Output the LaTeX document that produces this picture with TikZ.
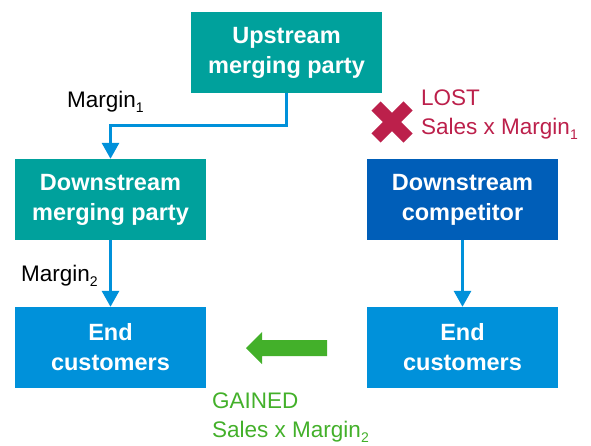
\documentclass[tikz,border=0pt]{standalone}
\usepackage{fontspec}
\setmainfont{Liberation Sans}
\usetikzlibrary{arrows.meta}
\definecolor{teal}{HTML}{00A19C}
\definecolor{lblue}{HTML}{0091DA}
\definecolor{mblue}{HTML}{005EB8}
\definecolor{kred}{HTML}{BC204B}
\definecolor{kgreen}{HTML}{43B02A}
\newcommand\mysub[1]{\raisebox{-0.4ex}{\fontsize{14}{14}\selectfont #1}}
\tikzset{
  boxnode/.style={minimum width=191pt, minimum height=81pt, inner sep=0pt, text=white,
    font=\fontsize{23.5}{30}\selectfont\bfseries, align=center},
  conn/.style={lblue, line width=3pt, -{Triangle[width=17pt,length=16pt]}},
  lbl/.style={font=\fontsize{22.5}{29}\selectfont, inner sep=0pt, align=left}
}
\begin{document}
\begin{tikzpicture}[x=1pt,y=-1pt]
\useasboundingbox (0,0) rectangle (591,445);
\node[boxnode, fill=teal] (up) at (286.5,52.5) {Upstream\\merging party};
\node[boxnode, fill=teal] (dm) at (110.5,199.5) {Downstream\\merging party};
\node[boxnode, fill=mblue] (dc) at (462.5,199.5) {Downstream\\competitor};
\node[boxnode, fill=lblue] (el) at (110.5,347.5) {End\\customers};
\node[boxnode, fill=lblue] (er) at (462.5,347.5) {End\\customers};
\draw[conn] (up.south) -- ++(0,32) -| (dm.north);
\draw[conn] (dm.south) -- (el.north);
\draw[conn] (dc.south) -- (er.north);
\node[lbl, anchor=west] (m1) at (67,102) {Margin\mysub{1}};
\node[lbl, anchor=west] (m2) at (21,276) {Margin\mysub{2}};
% cross
\draw[kred, line width=13pt] (376,106) -- (408,138);
\draw[kred, line width=13pt] (376,138) -- (408,106);
\node[lbl, anchor=west, text=kred] (lost) at (421,115) {LOST\\Sales x Margin\mysub{1}};
% green arrow
\fill[kgreen] (327,340) -- (262,340) -- (262,332) -- (246,348) -- (262,364) -- (262,356) -- (327,356) -- cycle;
\node[lbl, anchor=west, text=kgreen] (gain) at (212,418) {GAINED\\Sales x Margin\mysub{2}};
\end{tikzpicture}
\end{document}
